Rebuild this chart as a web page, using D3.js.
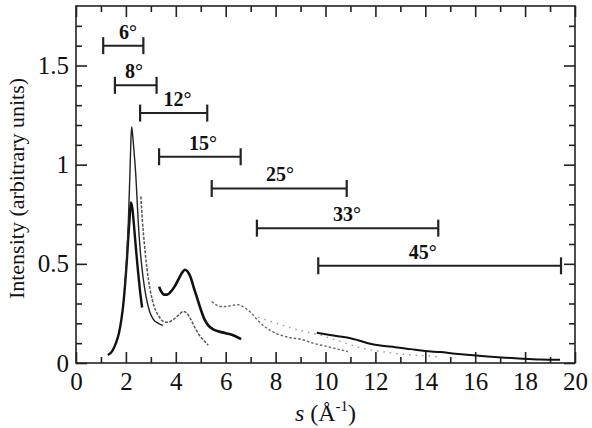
<!DOCTYPE html>
<html>
<head>
<meta charset="utf-8">
<script src="https://cdn.jsdelivr.net/npm/d3@7"></script>
<style>
  body { margin: 0; background: #fff; }
  svg { display: block; }
</style>
</head>
<body>
<div id="chart"></div>
<script>
// ---------------- data ----------------
const angles  = ['6°', '8°', '12°', '15°', '25°', '33°', '45°'];
const rangeLo = [1.09, 1.56, 2.57, 3.33, 5.44, 7.25, 9.71];
const rangeHi = [2.70, 3.23, 5.26, 6.60, 10.85, 14.52, 19.44];
const rangeY  = [1.60, 1.40, 1.26, 1.04, 0.88, 0.68, 0.49];
const labelS  = [2.08, 2.32, 4.07, 5.09, 8.18, 10.86, 13.9];

const s6  = [1.28, 1.45, 1.6, 1.72, 1.82, 1.9, 1.97, 2.03, 2.1, 2.16, 2.2, 2.26, 2.32, 2.4, 2.48, 2.56, 2.65];
const i6  = [0.04, 0.06, 0.10, 0.15, 0.22, 0.30, 0.40, 0.50, 0.64, 0.75, 0.81, 0.78, 0.70, 0.58, 0.47, 0.37, 0.28];

const s8  = [1.95, 2.03, 2.1, 2.16, 2.2, 2.23, 2.27, 2.33, 2.4, 2.45, 2.5, 2.58, 2.68, 2.8, 2.95, 3.1, 3.3, 3.48];
const i8  = [0.38, 0.52, 0.72, 0.95, 1.12, 1.19, 1.15, 1.06, 0.94, 0.82, 0.70, 0.56, 0.44, 0.34, 0.26, 0.22, 0.20, 0.19];

const s12 = [2.6, 2.66, 2.74, 2.84, 2.97, 3.12, 3.3, 3.5, 3.7, 3.9, 4.1, 4.3, 4.45, 4.6, 4.8, 5.0, 5.15, 5.3];
const i12 = [0.84, 0.72, 0.60, 0.48, 0.37, 0.29, 0.24, 0.21, 0.205, 0.22, 0.24, 0.26, 0.25, 0.22, 0.17, 0.13, 0.11, 0.09];

const s15 = [3.33, 3.42, 3.52, 3.65, 3.8, 3.95, 4.1, 4.25, 4.37, 4.48, 4.6, 4.72, 4.85, 5.0, 5.15, 5.3, 5.5, 5.7, 6.0, 6.3, 6.62];
const i15 = [0.385, 0.36, 0.345, 0.345, 0.36, 0.385, 0.42, 0.455, 0.47, 0.46, 0.43, 0.38, 0.33, 0.27, 0.22, 0.19, 0.17, 0.16, 0.15, 0.14, 0.12];

const s25 = [5.44, 5.6, 5.8, 6.0, 6.25, 6.45, 6.6, 6.8, 7.0, 7.25, 7.6, 8.0, 8.5, 9.0, 9.5, 10.0, 10.5, 10.9];
const i25 = [0.31, 0.295, 0.285, 0.285, 0.29, 0.295, 0.29, 0.275, 0.255, 0.22, 0.18, 0.15, 0.13, 0.12, 0.10, 0.085, 0.07, 0.058];

const s33 = [7.3, 7.8, 8.4, 8.8, 9.3, 9.8, 10.3, 10.8, 11.3, 11.8, 12.4, 13.0, 13.6, 14.2, 14.5];
const i33 = [0.23, 0.21, 0.185, 0.17, 0.155, 0.14, 0.12, 0.10, 0.08, 0.066, 0.055, 0.046, 0.04, 0.035, 0.032];

const s45 = [9.65, 10.0, 10.5, 11.0, 11.3, 11.7, 12.2, 12.8, 13.4, 14.0, 14.6, 15.2, 15.8, 16.5, 17.2, 17.9, 18.6, 19.4];
const i45 = [0.152, 0.145, 0.135, 0.125, 0.115, 0.10, 0.088, 0.08, 0.07, 0.06, 0.055, 0.047, 0.04, 0.033, 0.027, 0.022, 0.018, 0.016];

const xMajor = [0, 2, 4, 6, 8, 10, 12, 14, 16, 18, 20];
const yMajor = [0, 0.5, 1, 1.5];

// ---------------- layout ----------------
const serif = '"Liberation Serif", monospace';
const totalWidth = 592, totalHeight = 428;
const margins = { top: 6, right: 17, bottom: 65, left: 76 };
const mainWidth = totalWidth - margins.left - margins.right,
      mainHeight = totalHeight - margins.top - margins.bottom;

const svg = d3.select('#chart').append('svg')
  .attr('width', totalWidth)
  .attr('height', totalHeight);

const g = svg.append('g')
  .attr('transform', 'translate(' + margins.left + ',' + margins.top + ')');

const xScale = d3.scaleLinear().domain([0, 20]).range([0, mainWidth]);
const yScale = d3.scaleLinear().domain([0, 1.8]).range([mainHeight, 0]);

const xMinor = d3.range(1, 20, 2);
const yMinor = d3.range(0.1, 1.8, 0.1).filter(v => Math.abs(v * 2 - Math.round(v * 2)) > 1e-6);

function styleAxis(sel){
  sel.attr('font-family', null).attr('font-size', null);
  sel.select('.domain').remove();
  sel.selectAll('line').attr('stroke', '#222').attr('stroke-width', 1.6);
  sel.selectAll('text')
    .attr('fill', '#111')
    .style('font-family', serif)
    .style('font-size', '25px');
}

// major / minor ticks on all four sides (inward)
g.append('g').attr('transform', 'translate(0,' + mainHeight + ')')
  .call(d3.axisBottom(xScale).tickValues(xMajor).tickSize(-11).tickPadding(9).tickFormat(d3.format('d')))
  .call(styleAxis);
g.append('g').attr('transform', 'translate(0,' + mainHeight + ')')
  .call(d3.axisBottom(xScale).tickValues(xMinor).tickSize(-6).tickFormat(''))
  .call(styleAxis);
g.append('g')
  .call(d3.axisTop(xScale).tickValues(xMajor).tickSize(-11).tickFormat(''))
  .call(styleAxis);
g.append('g')
  .call(d3.axisTop(xScale).tickValues(xMinor).tickSize(-6).tickFormat(''))
  .call(styleAxis);

g.append('g')
  .call(d3.axisLeft(yScale).tickValues(yMajor).tickSize(-11).tickPadding(7).tickFormat(d3.format('')))
  .call(styleAxis);
g.append('g')
  .call(d3.axisLeft(yScale).tickValues(yMinor).tickSize(-6).tickFormat(''))
  .call(styleAxis);
g.append('g').attr('transform', 'translate(' + mainWidth + ',0)')
  .call(d3.axisRight(yScale).tickValues(yMajor).tickSize(-11).tickFormat(''))
  .call(styleAxis);
g.append('g').attr('transform', 'translate(' + mainWidth + ',0)')
  .call(d3.axisRight(yScale).tickValues(yMinor).tickSize(-6).tickFormat(''))
  .call(styleAxis);

// frame
g.append('rect')
  .attr('width', mainWidth).attr('height', mainHeight)
  .attr('fill', 'none').attr('stroke', '#222').attr('stroke-width', 1.6);

// ---------------- curves ----------------
const series = [
  { s: s6,  v: i6,  color: '#111', width: 2.4, dash: null },
  { s: s8,  v: i8,  color: '#222', width: 1.4, dash: null },
  { s: s12, v: i12, color: '#555', width: 1.5, dash: '3,1.5' },
  { s: s15, v: i15, color: '#111', width: 2.6, dash: null },
  { s: s25, v: i25, color: '#666', width: 1.4, dash: '2.5,2' },
  { s: s33, v: i33, color: '#999', width: 1.4, dash: '1.5,5' },
  { s: s45, v: i45, color: '#111', width: 2.0, dash: null }
];

const line = d3.line()
  .x(d => xScale(d[0]))
  .y(d => yScale(d[1]))
  .curve(d3.curveMonotoneX);

g.append('g').selectAll('path')
  .data(series)
  .enter()
  .append('path')
    .attr('d', d => line(d.s.map((x, i) => [x, d.v[i]])))
    .attr('fill', 'none')
    .attr('stroke', d => d.color)
    .attr('stroke-width', d => d.width)
    .attr('stroke-dasharray', d => d.dash)
    .attr('stroke-linejoin', 'round');

// ---------------- angular ranges ----------------
const ranges = g.append('g').selectAll('g')
  .data(angles)
  .enter()
  .append('g');

ranges.append('line')
  .attr('x1', (d, i) => xScale(rangeLo[i]))
  .attr('x2', (d, i) => xScale(rangeHi[i]))
  .attr('y1', (d, i) => yScale(rangeY[i]))
  .attr('y2', (d, i) => yScale(rangeY[i]))
  .attr('stroke', '#222').attr('stroke-width', 2);
ranges.append('line')
  .attr('x1', (d, i) => xScale(rangeLo[i]))
  .attr('x2', (d, i) => xScale(rangeLo[i]))
  .attr('y1', (d, i) => yScale(rangeY[i]) - 8.5)
  .attr('y2', (d, i) => yScale(rangeY[i]) + 8.5)
  .attr('stroke', '#222').attr('stroke-width', 2.2);
ranges.append('line')
  .attr('x1', (d, i) => xScale(rangeHi[i]))
  .attr('x2', (d, i) => xScale(rangeHi[i]))
  .attr('y1', (d, i) => yScale(rangeY[i]) - 8.5)
  .attr('y2', (d, i) => yScale(rangeY[i]) + 8.5)
  .attr('stroke', '#222').attr('stroke-width', 2.2);
ranges.append('text')
  .attr('x', (d, i) => xScale(labelS[i]))
  .attr('y', (d, i) => yScale(rangeY[i]) - 7)
  .attr('text-anchor', 'middle')
  .style('font-family', serif)
  .style('font-size', '20px')
  .style('font-weight', 'bold')
  .attr('fill', '#111')
  .text(d => d);

// ---------------- axis titles ----------------
const xTitle = svg.append('text')
  .attr('x', margins.left + xScale(10))
  .attr('y', 421)
  .attr('text-anchor', 'middle')
  .style('font-family', serif)
  .style('font-size', '24px')
  .attr('fill', '#111');
xTitle.append('tspan').style('font-style', 'italic').text('s');
xTitle.append('tspan').text(' (Å');
xTitle.append('tspan').attr('dy', -10).style('font-size', '15px').text('-1');
xTitle.append('tspan').attr('dy', 10).text(')');

svg.append('text')
  .attr('transform', 'translate(24,' + (margins.top + mainHeight / 2 + 4) + ') rotate(-90)')
  .attr('text-anchor', 'middle')
  .style('font-family', serif)
  .style('font-size', '22px')
  .attr('fill', '#111')
  .text('Intensity (arbitrary units)');
</script>
</body>
</html>
